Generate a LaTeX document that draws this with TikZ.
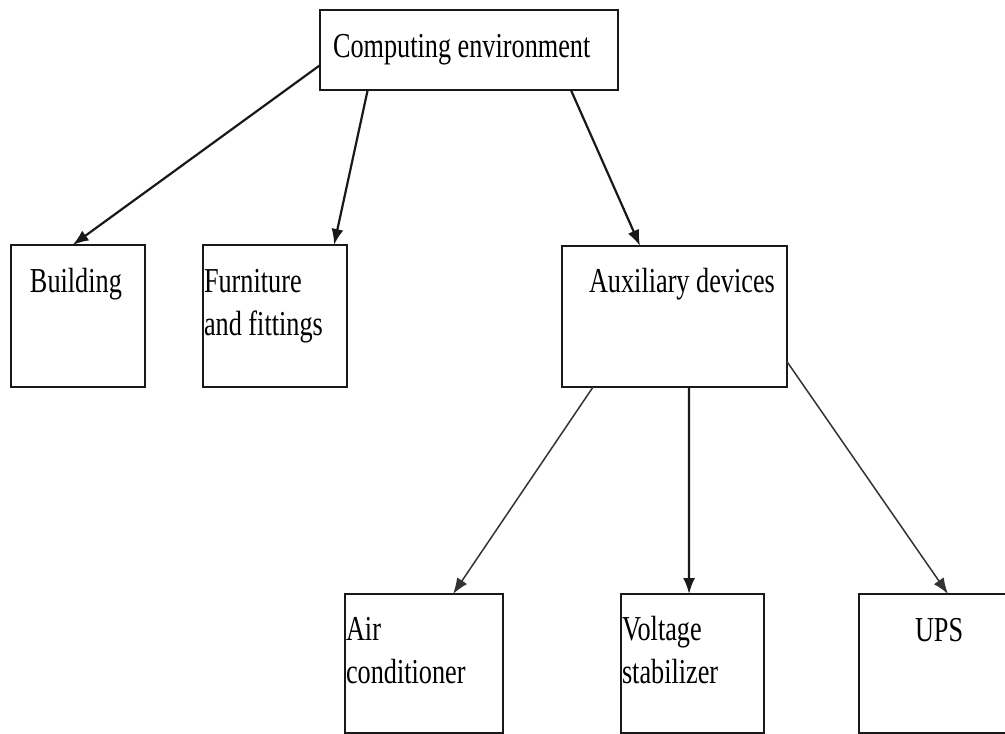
\documentclass[tikz,border=0pt]{standalone}
\usepackage{fontspec}
\setmainfont{Liberation Serif}[FakeStretch=0.75]
\usetikzlibrary{arrows.meta,calc}
\begin{document}
\begin{tikzpicture}[x=1pt,y=-1pt,
  box/.style={draw=black!90, line width=2.7pt, inner sep=0pt, outer sep=0pt, anchor=north west},
  lbl/.style={inner sep=0pt, outer sep=0pt, anchor=base west, align=left, text=black,
    font=\fontsize{35}{43}\selectfont},
  conn/.style={draw=black!90, line width=2.2pt, -{Latex[length=16pt,width=12pt]}},
  thin/.style={draw=black!80, line width=1.5pt, -{Latex[length=16pt,width=12pt]}}]
\useasboundingbox (0,0) rectangle (1005,734);
% boxes
\node[box, minimum width=298pt, minimum height=80pt] (comp) at (320,10) {};
\node[box, minimum width=134pt, minimum height=142pt] (bld) at (11,245) {};
\node[box, minimum width=144pt, minimum height=142pt] (fur) at (203,245) {};
\node[box, minimum width=225pt, minimum height=141pt] (aux) at (562,246) {};
\node[box, minimum width=158pt, minimum height=139pt] (air) at (345,594) {};
\node[box, minimum width=143pt, minimum height=139pt] (vol) at (621,594) {};
\node[box, minimum width=160pt, minimum height=139pt] (ups) at (859,594) {};
% labels
\node[lbl] (tcomp) at (333,57) {Computing environment};
\node[lbl] (tbld) at (30,292) {Building};
\node[lbl] (tfur) at (204,335) {Furniture\\and fittings};
\node[lbl] (taux) at (589,292) {Auxiliary devices};
\node[lbl] (tair) at (346,683) {Air\\conditioner};
\node[lbl] (tvol) at (622,683) {Voltage\\stabilizer};
\node[lbl] (tups) at (915,641) {UPS};
% connectors
\draw[conn] ($(comp.north west)!0.69!(comp.south west)$) -- ($(bld.north west)!0.46!(bld.north east)$);
\draw[conn] ($(comp.south west)!0.16!(comp.south east)$) -- ($(fur.north west)!0.91!(fur.north east)$);
\draw[conn] ($(comp.south west)!0.842!(comp.south east)$) -- ($(aux.north west)!0.347!(aux.north east)$);
\draw[thin] ($(aux.south west)!0.138!(aux.south east)$) -- ($(air.north west)!0.684!(air.north east)$);
\draw[conn] ($(aux.south west)!0.564!(aux.south east)$) -- ($(vol.north west)!0.476!(vol.north east)$);
\draw[thin] ($(aux.north east)!0.82!(aux.south east)$) -- ($(ups.north west)!0.556!(ups.north east)$);
\end{tikzpicture}
\end{document}
